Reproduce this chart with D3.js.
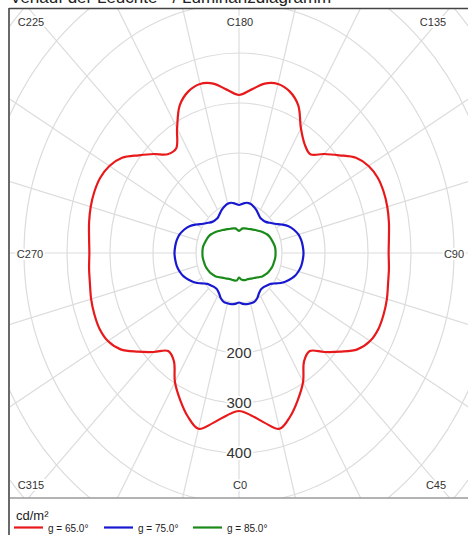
<!DOCTYPE html>
<html><head><meta charset="utf-8">
<script src="https://cdn.jsdelivr.net/npm/d3@7/dist/d3.min.js"></script>
<style>html,body{margin:0;padding:0;background:#fff;}svg{display:block;font-family:Arial,"Liberation Sans",sans-serif;}</style>
</head><body><svg id="c" width="468" height="535"></svg>
<script>
// C-plane angles (degrees), step 5
const angles = d3.range(0, 360, 5);
// Luminance values cd/m² per C-plane
const red65 = [316,326,345,364,348,324,298,264,256,280,307,336,352,358,358,356,352,350,
               348,350,354,357,358,356,348,332,304,280,258,266,288,326,344,350,344,328,
               316,328,344,350,344,326,288,255,258,280,304,332,348,356,358,357,354,350,
               348,350,352,356,358,358,352,336,307,280,256,264,298,324,348,364,345,326];
const blue75 = [99,102,104,104,104,100,93,89,89,92,96,106,118,128,137,143,147,149,
                150,149,147,143,136,127,114,102,94,88,86,86,90,95,99,102,102,99,
                96,99,102,102,99,95,90,86,86,88,94,102,114,127,136,143,147,149,
                150,149,147,143,137,128,118,106,96,92,89,89,93,100,104,104,104,102];
const green85 = [49,53,55,56,56,57,59,61,64,68,72,75,78,80,82,83,84,85,
                 85,85,84,82,80,78,75,71,67,63,60,57,55,53,52,51,50,47,
                 44,47,50,51,52,53,55,57,60,63,67,71,75,78,80,82,84,85,
                 85,85,84,83,82,80,78,75,72,68,64,61,59,57,56,56,56,55];
const seriesNames = ["g = 65.0°","g = 75.0°","g = 85.0°"];
const seriesColors = ["#e8191b","#1818d0","#1a8a1a"];
const ringValues = [100,200,300,400,500,600,700,800];
const ringLabels = [200,300,400];
const spokeAngles = d3.range(0, 360, 15);
const cLabels = [{t:"C225",a:225},{t:"C180",a:180},{t:"C135",a:135},{t:"C270",a:270},{t:"C90",a:90},{t:"C315",a:315},{t:"C0",a:0},{t:"C45",a:45}];
const unitLabel = "cd/m²";
const titleText = "Verlauf der Leuchte - / Luminanzdiagramm";

const svg = d3.select("#c");
const cx = 239, cy = 253;
const rx = d3.scaleLinear().domain([0,100]).range([0,43]);
const ry = d3.scaleLinear().domain([0,100]).range([0,50]);
const px = (a,v) => cx + Math.sin(a*Math.PI/180)*rx(v);
const py = (a,v) => cy + Math.cos(a*Math.PI/180)*ry(v);

// title (cut off at top as in the reference)
svg.append("text").attr("x",10).attr("y",3).attr("font-size",17).attr("fill","#222").text(titleText);

const plot = {x0:10, y0:9, x1:470, y1:498};
svg.append("clipPath").attr("id","clip").append("rect")
  .attr("x",plot.x0).attr("y",plot.y0).attr("width",plot.x1-plot.x0).attr("height",plot.y1-plot.y0);
const g = svg.append("g").attr("clip-path","url(#clip)");

// rings
g.selectAll("ellipse.ring").data(ringValues).enter().append("ellipse")
  .attr("cx",cx).attr("cy",cy).attr("rx",d=>rx(d)).attr("ry",d=>ry(d))
  .attr("fill","none").attr("stroke","#dcdcdc").attr("stroke-width",1.2);
// spokes
g.selectAll("line.spoke").data(spokeAngles).enter().append("line")
  .attr("x1",d=>px(d,100)).attr("y1",d=>py(d,100))
  .attr("x2",d=>px(d,1000)).attr("y2",d=>py(d,1000))
  .attr("stroke","#dcdcdc").attr("stroke-width",1.2);

// ring labels
g.selectAll("text.rl").data(ringLabels).enter().append("text")
  .attr("x",cx).attr("y",d=>py(0,d)).attr("dy","0.35em").attr("text-anchor","middle")
  .attr("font-size",15).attr("fill","#333")
  .attr("stroke","#fff").attr("stroke-width",4).attr("paint-order","stroke")
  .text(d=>d);

// curves
const line = d3.line().x(d=>px(d[0],d[1])).y(d=>py(d[0],d[1])).curve(d3.curveCatmullRomClosed.alpha(0.5));
[red65, blue75, green85].forEach((vals,i)=>{
  g.append("path").datum(angles.map((a,j)=>[a,vals[j]]))
    .attr("d",line).attr("fill","none").attr("stroke",seriesColors[i]).attr("stroke-width",2.2);
});

// C labels
const lpos = {225:[31,22],180:[240,22],135:[433,22],270:[30,254],90:[454,254],315:[31,485],0:[240,485],45:[436,485]};
svg.selectAll("text.cl").data(cLabels).enter().append("text")
  .attr("x",d=>lpos[d.a][0]).attr("y",d=>lpos[d.a][1]).attr("dy","0.35em").attr("text-anchor","middle")
  .attr("font-size",11).attr("fill","#333")
  .attr("stroke","#fff").attr("stroke-width",4).attr("paint-order","stroke")
  .text(d=>d.t);

// frame
svg.append("line").attr("x1",plot.x0).attr("x2",470).attr("y1",plot.y1).attr("y2",plot.y1).attr("stroke","#9a9a9a").attr("stroke-width",1.5);
svg.append("line").attr("x1",9).attr("x2",470).attr("y1",8.5).attr("y2",8.5).attr("stroke","#444").attr("stroke-width",1.6);
svg.append("line").attr("x1",9).attr("x2",9).attr("y1",8).attr("y2",540).attr("stroke","#444").attr("stroke-width",1.6);

// legend
svg.append("text").attr("x",16).attr("y",520).attr("font-size",13).attr("fill","#222").text(unitLabel);
const lx = [14,104,193];
seriesNames.forEach((n,i)=>{
  svg.append("line").attr("x1",lx[i]).attr("x2",lx[i]+29).attr("y1",527.5).attr("y2",527.5).attr("stroke",seriesColors[i]).attr("stroke-width",2.2);
  svg.append("text").attr("x",lx[i]+34).attr("y",532).attr("font-size",10).attr("fill","#222").text(n);
});
</script></body></html>
